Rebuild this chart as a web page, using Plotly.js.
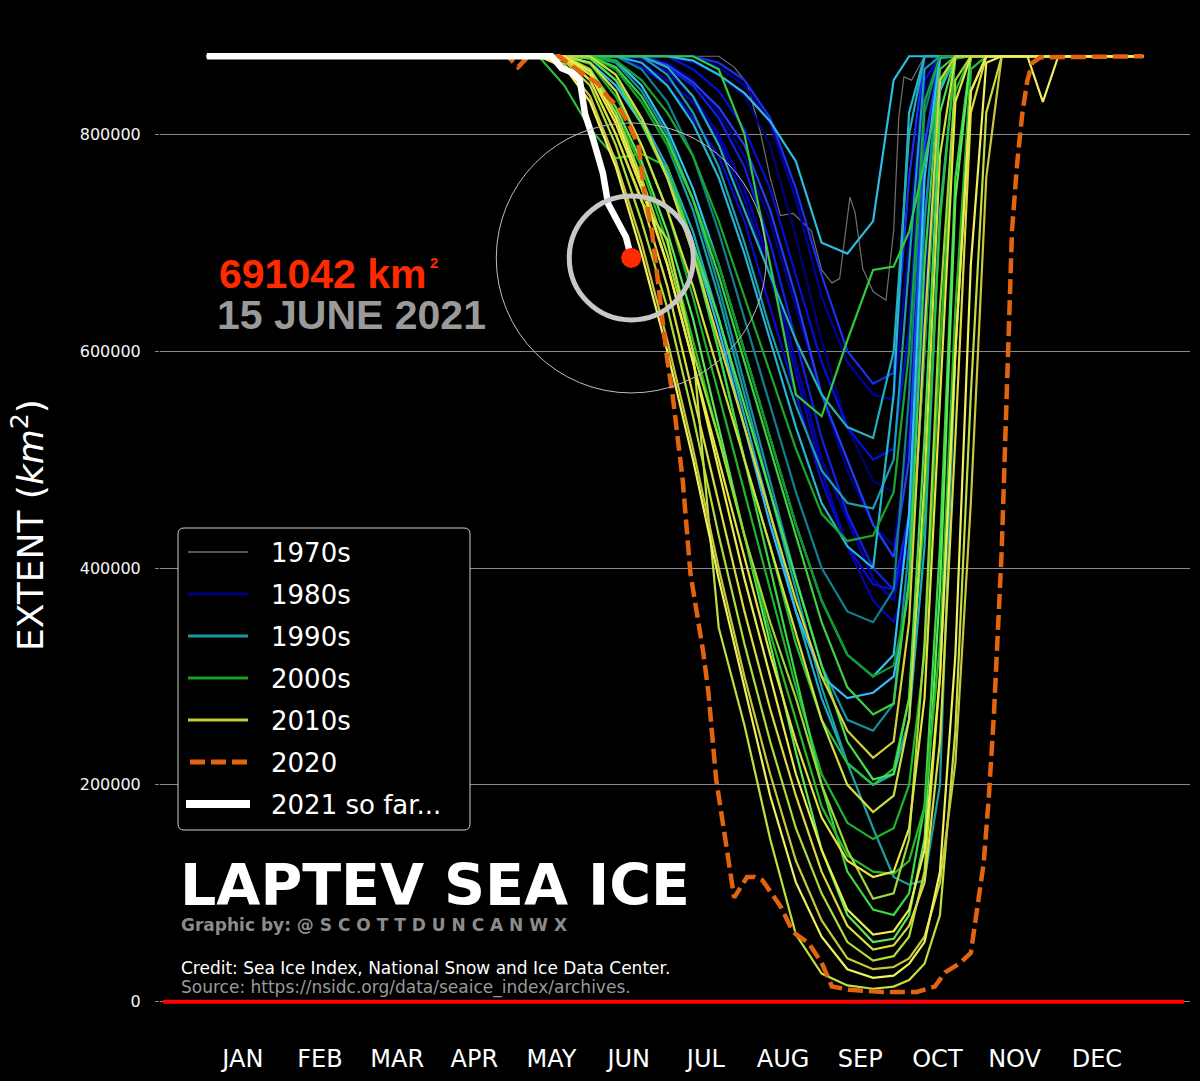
<!DOCTYPE html>
<html><head><meta charset="utf-8">
<script src="https://cdn.plot.ly/plotly-3.0.1.min.js"></script>
<style>html,body{margin:0;padding:0;background:#000;} #chart{width:1200px;height:1081px;}</style>
</head><body><div id="chart"></div>
<script>
// ---------- DATA (extent in thousand km², day of year) ----------
const GRID_DAYS = [1,130,140,150,160,170,180,190,200,210,220,230,240,250,260,268,274,280,286,292,298,304,310,320,326,332,365];

const DAYS_1979 = [1,200,206,211,216,220,224,229,236,240,244,247,251,253,256,260,265,268,270,272,275,280,365];
const EXT_1979  = [872,872,862,847,804,760,725,727,711,675,663,667,742,728,676,655,647,711,816,853,850,872,872];

const EXT_1980S = [
 [872,872,872,872,872,872,872,866,855,835,790,705,610,530,480,470,600,840,872,872,872,872,872,872,872,872,872],
 [872,872,872,872,872,872,866,850,820,780,720,640,560,490,440,420,520,780,872,872,872,872,872,872,872,872,872],
 [872,872,872,872,872,872,872,872,862,845,810,740,650,590,560,555,700,872,872,872,872,872,872,872,872,872,872],
 [872,872,872,872,872,870,858,835,800,750,680,590,500,445,390,370,440,720,870,872,872,872,872,872,872,872,872],
 [872,872,872,872,872,862,845,815,780,720,640,560,480,420,385,380,420,640,850,872,872,872,872,872,872,872,872],
 [872,872,872,872,872,872,872,860,840,805,750,670,590,530,500,510,620,850,872,872,872,872,872,872,872,872,872],
 [872,872,872,872,872,872,862,845,815,770,700,610,520,450,400,380,450,720,872,872,872,872,872,872,872,872,872],
 [872,872,872,872,872,872,872,872,866,850,815,750,670,600,570,580,760,872,872,872,872,872,872,872,872,872,872],
 [872,872,872,872,872,872,864,848,825,790,730,650,560,500,440,410,500,790,872,872,872,872,872,872,872,872,872],
 [872,872,872,872,872,866,850,830,795,740,670,580,490,420,370,350,390,600,840,872,872,872,872,872,872,872,872]
];
const EXT_1990S = [
 [872,872,872,872,872,860,830,780,710,630,550,470,400,360,350,380,560,820,872,872,872,872,872,872,872,872,872],
 [872,872,872,872,866,840,800,740,660,570,480,390,310,260,250,275,420,720,870,872,872,872,872,872,872,872,872],
 [872,872,872,872,872,872,855,820,770,700,620,550,490,460,455,500,680,860,872,872,872,872,872,872,872,872,872],
 [872,872,872,870,850,815,770,710,630,540,450,360,280,220,200,210,260,420,730,870,872,872,872,872,872,872,872],
 [872,872,872,872,872,866,845,810,760,690,610,530,460,420,400,560,820,872,872,872,872,872,872,872,872,872,872],
 [872,872,872,872,860,830,790,730,650,560,470,380,290,220,160,115,108,112,200,600,860,872,872,872,872,872,872],
 [872,872,872,872,872,872,872,868,855,838,812,775,700,690,720,850,872,872,872,872,872,872,872,872,872,872,872],
 [872,872,872,872,868,845,805,750,680,600,520,440,370,320,300,320,450,760,872,872,872,872,872,872,872,872,872],
 [872,872,872,872,872,872,862,835,790,730,670,610,560,530,520,600,800,872,872,872,872,872,872,872,872,872,872],
 [872,872,872,866,845,810,765,700,620,530,440,360,300,280,285,300,380,600,840,872,872,872,872,872,872,872,872]
];
const EXT_2000S = [
 [872,872,872,872,860,830,790,740,680,600,520,440,370,320,300,310,380,600,850,872,872,872,872,872,872,872,872],
 [872,872,872,872,868,850,820,780,720,650,580,510,450,425,430,470,600,830,872,872,872,872,872,872,872,872,872],
 [872,872,872,865,835,790,730,650,560,470,380,290,210,165,150,160,200,320,600,840,872,872,872,872,872,872,872],
 [872,872,845,805,778,782,770,700,600,500,420,330,260,220,200,215,280,450,720,872,872,872,872,872,872,872,872],
 [872,872,872,872,872,872,872,872,860,800,680,560,540,610,675,678,710,775,845,870,872,872,872,872,872,872,872],
 [872,872,872,872,855,815,760,690,600,500,400,300,200,120,85,80,100,180,420,760,872,872,872,872,872,872,872],
 [872,872,872,870,850,810,760,700,630,550,470,390,310,240,205,210,280,520,820,872,872,872,872,872,872,872,872],
 [872,872,872,860,825,775,710,630,530,430,330,230,140,80,55,58,80,150,380,740,872,872,872,872,872,872,872],
 [872,872,870,855,820,770,700,610,520,430,340,260,180,135,120,118,130,180,330,640,860,872,872,872,872,872,872],
 [872,872,872,872,862,835,795,740,670,590,510,430,350,290,265,275,390,680,860,872,872,872,872,872,872,872,872]
];
const EXT_2010S = [
 [872,872,872,860,820,760,690,600,520,430,350,280,200,140,95,100,150,330,640,850,872,872,872,872,872,872,872],
 [872,872,868,845,790,720,640,540,430,330,240,160,100,55,38,42,60,120,300,600,840,872,872,872,872,872,872],
 [872,872,872,850,800,738,703,600,345,255,150,62,26,15,12,14,20,35,80,250,560,820,872,872,872,872,872],
 [872,872,872,866,840,790,730,660,580,500,420,340,260,200,175,190,260,480,780,872,872,872,872,872,872,872,872],
 [872,872,870,850,800,740,660,560,460,360,270,190,120,70,48,52,70,110,240,520,820,872,872,872,872,872,872],
 [872,872,872,855,810,750,680,590,500,410,320,240,170,130,115,120,160,280,560,830,872,872,872,872,872,872,872],
 [872,872,865,835,775,700,610,510,400,300,210,130,75,40,30,32,40,60,110,220,460,760,872,872,872,872,872],
 [872,872,872,872,855,815,760,690,610,530,450,370,300,250,225,240,350,620,850,872,872,872,872,872,872,872,872],
 [872,872,872,858,815,755,680,590,490,390,300,210,140,85,62,65,85,140,300,600,840,872,872,872,872,872,872],
 [872,872,862,830,770,690,600,500,390,290,190,110,60,30,22,24,35,55,120,320,680,866,872,872,830,872,872]
];

const DAYS_2020 = [1,118,122,126,138,147,153,157,161,165,169,171,174,177,180,182,186,189,194,196,199,203,205,206,211,214,217,224,229,235,240,244,251,264,277,284,288,294,298,300,303,305,307,310,313,314,316,318,320,322,325,365];
const EXT_2020  = [872,872,862,872,872,856,847,834,825,810,788,748,711,650,592,561,481,395,322,285,205,143,112,96,115,115,112,88,64,54,36,14,11,9,9,14,27,36,45,76,128,189,266,416,622,711,773,819,850,866,871,872];

const DAYS_2021 = [1,135,139,143,146,148,151,155,157,160,164,166];
const EXT_2021  = [872,872,861,857,850,819,797,764,736,723,705,686];

const MONTH_DAYS   = [15,45,75,105,135,165,195,225,255,285,315,347];
const MONTH_LABELS = ['JAN','FEB','MAR','APR','MAY','JUN','JUL','AUG','SEP','OCT','NOV','DEC'];
const Y_TICKS = [0,200000,400000,600000,800000];

const LEGEND_LABELS = ['1970s','1980s','1990s','2000s','2010s','2020','2021 so far...'];

// ---------- STYLE ----------
const C1980S = ['#00007a','#00008f','#0000a3','#0000b8','#0a0acc','#0010dd','#1020e8','#1830f0','#2040f8','#0505b0'];
const C1990S = ['#107f8f','#1590a0','#1a9fb0','#20acc0','#25b5d0','#1aa0a0','#2cbce0','#30c4ee','#22b0b8','#36b8f4'];
const C2000S = ['#109a20','#18a828','#20b530','#28c038','#30cc40','#3cd848','#48e050','#58e858','#2ab82a','#40d040'];
const C2010S = ['#9ed83a','#b0dc3c','#c0e040','#cfe040','#dcdc40','#e4e444','#c8c83c','#d4d43c','#ecec50','#f0f060'];
const LEGEND_COLORS = ['#555555','#000080','#1a9a9a','#1ea01e','#c8c83c','#e2640f','#ffffff'];
const LEGEND_WIDTHS = [2,3,3,3,3,5,8];
const LEGEND_DASH = ['solid','solid','solid','solid','solid','15px,6px','solid'];

const W=1200,H=1081,ML=160,MR=10,MT=9,MB=32;
const PW=W-ML-MR, PH=H-MT-MB;
const px = x => (x-ML)/PW;
const py = y => (H-MB-y)/PH;
const K = v => v*1000;

const traces = [];
traces.push({type:'scatter',mode:'lines',x:DAYS_1979,y:EXT_1979.map(K),line:{color:'#707070',width:1.2},hoverinfo:'skip'});
function addDecade(rows, colors){
  rows.forEach((r,i)=>traces.push({type:'scatter',mode:'lines',x:GRID_DAYS,y:r.map(K),
    line:{color:colors[i],width:2.2},hoverinfo:'skip'}));
}
addDecade(EXT_1980S,C1980S);
addDecade(EXT_1990S,C1990S);
addDecade(EXT_2000S,C2000S);
addDecade(EXT_2010S,C2010S);
traces.push({type:'scatter',mode:'lines',x:DAYS_2020,y:EXT_2020.map(K),line:{color:'#e2640f',width:4.5,dash:'15px,6px'},hoverinfo:'skip'});
traces.push({type:'scatter',mode:'lines',x:DAYS_2021,y:EXT_2021.map(K),line:{color:'#ffffff',width:6.5},hoverinfo:'skip'});
const lastDay = DAYS_2021[DAYS_2021.length-1], lastVal = K(EXT_2021[EXT_2021.length-1]);
traces.push({type:'scatter',mode:'markers',x:[lastDay],y:[lastVal],marker:{color:'#ff2a00',size:20,line:{width:0}},hoverinfo:'skip'});

const shapes = [];
shapes.push({type:'line',xref:'paper',yref:'y',x0:px(163),x1:px(1184),y0:0,y1:0,line:{color:'#ff0000',width:4},layer:'above'});
shapes.push({type:'circle',xref:'x',yref:'y',xsizemode:'pixel',ysizemode:'pixel',xanchor:lastDay,yanchor:lastVal,
  x0:-135,x1:135,y0:-135,y1:135,line:{color:'#bdbdbd',width:1},layer:'above'});
shapes.push({type:'circle',xref:'x',yref:'y',xsizemode:'pixel',ysizemode:'pixel',xanchor:lastDay,yanchor:lastVal,
  x0:-62,x1:62,y0:-62,y1:62,line:{color:'#c8c8c8',width:5},layer:'above'});

// legend box (rounded)
(function(){
  const x0=px(178),x1=px(470),yt=py(528),yb=py(830),rx=6/PW,ry=6/PH;
  const p=`M${x0+rx},${yt} L${x1-rx},${yt} Q${x1},${yt} ${x1},${yt-ry} L${x1},${yb+ry} Q${x1},${yb} ${x1-rx},${yb} L${x0+rx},${yb} Q${x0},${yb} ${x0},${yb+ry} L${x0},${yt-ry} Q${x0},${yt} ${x0+rx},${yt} Z`;
  shapes.push({type:'path',xref:'paper',yref:'paper',path:p,fillcolor:'#000000',line:{color:'#cfcfcf',width:1},layer:'above'});
})();

const annotations = [];
LEGEND_LABELS.forEach((lab,i)=>{
  const yy = 552 + 42*i;
  const xs = i===6 ? 186 : (i===5 ? 190 : 188), xe = i===6 ? 250 : (i===5 ? 247 : 248);
  shapes.push({type:'line',xref:'paper',yref:'paper',x0:px(xs),x1:px(xe),y0:py(yy),y1:py(yy),
    line:{color:LEGEND_COLORS[i],width:LEGEND_WIDTHS[i],dash:LEGEND_DASH[i]},layer:'above'});
  annotations.push({xref:'paper',yref:'paper',x:px(269),y:py(yy+1),xanchor:'left',yanchor:'middle',showarrow:false,
    text:lab,font:{family:'DejaVu Sans, sans-serif',size:26,color:'#ffffff'}});
});

const ann = (x,y,text,size,color,family,extra) => Object.assign({xref:'paper',yref:'paper',x:px(x),y:py(y),
  xanchor:'left',yanchor:'middle',showarrow:false,text:text,font:{family:family,size:size,color:color}},extra||{});

annotations.push(ann(217,274,'<b>691042 km</b>',41,'#ff2a00','Liberation Sans, Arial, sans-serif'));
annotations.push(ann(428,262,'<b>2</b>',15,'#ff2a00','Liberation Sans, Arial, sans-serif'));
annotations.push(ann(215,315,'<b>15 JUNE 2021</b>',41,'#9a9a9a','Liberation Sans, Arial, sans-serif'));
annotations.push(ann(178,885,'<b>LAPTEV SEA ICE</b>',57,'#ffffff','DejaVu Sans, sans-serif'));
annotations.push(ann(179,925,'<b>Graphic by: @ S C O T T D U N C A N W X</b>',17,'#8c8c8c','DejaVu Sans, sans-serif'));
annotations.push(ann(179,968,'Credit: Sea Ice Index, National Snow and Ice Data Center.',17,'#ffffff','DejaVu Sans, sans-serif'));
annotations.push(ann(179,987,'Source: https://nsidc.org/data/seaice_index/archives.',17,'#9a9a9a','DejaVu Sans, sans-serif'));
annotations.push({xref:'paper',yref:'paper',x:px(28),y:py(525),xanchor:'center',yanchor:'middle',showarrow:false,textangle:-90,
  text:'EXTENT (<i>km</i><sup>2</sup>)',font:{family:'DejaVu Sans, sans-serif',size:36,color:'#ffffff'}});

const layout = {
  width:W,height:H,paper_bgcolor:'#000000',plot_bgcolor:'#000000',
  margin:{l:ML,r:MR,t:MT,b:MB},showlegend:false,hovermode:false,
  xaxis:{range:[-17.2,383.2],tickmode:'array',tickvals:MONTH_DAYS,ticktext:MONTH_LABELS,
    tickfont:{family:'DejaVu Sans, sans-serif',size:24,color:'#ffffff'},showgrid:false,zeroline:false,showline:false,
    ticks:'',ticklabelstandoff:-7},
  yaxis:{range:[-43600,915600],tickmode:'array',tickvals:Y_TICKS,ticktext:Y_TICKS.map(String),
    tickfont:{family:'DejaVu Sans, sans-serif',size:16,color:'#f4f4f4'},gridcolor:'#8a8a8a',gridwidth:1,
    zeroline:false,showline:false,ticks:'outside',ticklen:4,tickcolor:'#888',ticklabelstandoff:11},
  shapes:shapes,annotations:annotations
};
Plotly.newPlot('chart',traces,layout,{displayModeBar:false,staticPlot:true});
</script></body></html>
